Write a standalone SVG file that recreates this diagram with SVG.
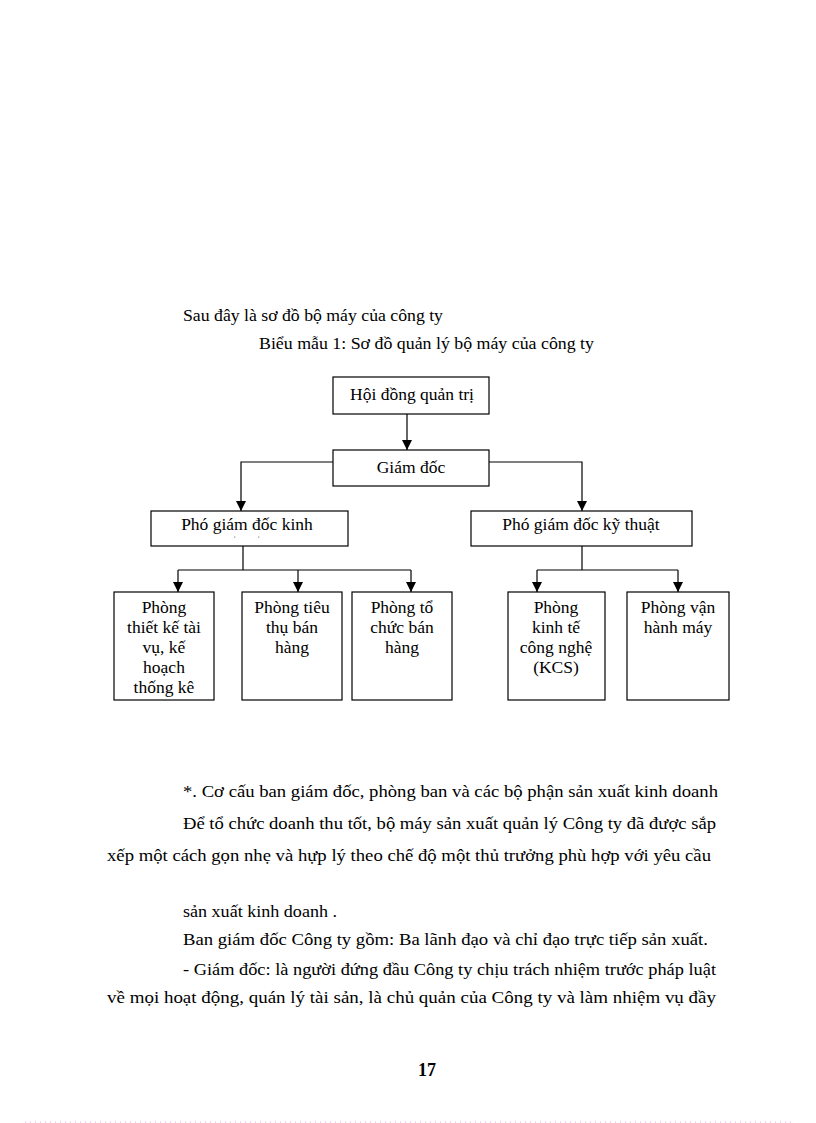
<svg xmlns="http://www.w3.org/2000/svg" width="816" height="1123" viewBox="0 0 816 1123">
<defs>
<marker id="ah" viewBox="0 0 10 10" refX="10" refY="5" markerWidth="10" markerHeight="10" markerUnits="userSpaceOnUse" orient="auto">
<path d="M0,0 L10,5 L0,10 Z" fill="#000"/>
</marker>
<style>
text{font-family:"Liberation Serif","Times New Roman",serif;font-size:17px;fill:#000}
.b{font-size:17.5px}
.c{text-anchor:middle}
.box{fill:#fff;stroke:#000;stroke-width:1.2}
.ln{fill:none;stroke:#000;stroke-width:1.2}
.ar{fill:none;stroke:#000;stroke-width:1.2;marker-end:url(#ah)}
</style>
</defs>
<rect width="816" height="1123" fill="#fff"/>
<line x1="25" y1="1122" x2="792" y2="1122" stroke="#e8a0e8" stroke-width="1" stroke-dasharray="1,4"/>

<text x="183" y="321" textLength="260" lengthAdjust="spacingAndGlyphs">Sau đây là sơ đồ bộ máy của công ty</text>
<text x="259" y="349" textLength="335" lengthAdjust="spacingAndGlyphs">Biểu mẫu 1: Sơ đồ quản lý bộ máy của công ty</text>

<g id="connectors">
<line class="ar" x1="407" y1="414" x2="407" y2="450"/>
<polyline class="ar" points="333,462 241,462 241,511"/>
<polyline class="ar" points="489,462 582,462 582,511"/>
<line class="ln" x1="243" y1="546" x2="243" y2="570"/>
<line class="ln" x1="178" y1="570" x2="411" y2="570"/>
<line class="ar" x1="178" y1="570" x2="178" y2="592"/>
<line class="ar" x1="298" y1="570" x2="298" y2="592"/>
<line class="ar" x1="411" y1="570" x2="411" y2="592"/>
<line class="ln" x1="582" y1="546" x2="582" y2="570"/>
<line class="ln" x1="537" y1="570" x2="678" y2="570"/>
<line class="ar" x1="537" y1="570" x2="537" y2="592"/>
<line class="ar" x1="678" y1="570" x2="678" y2="592"/>
</g>

<g id="hdqt">
<rect class="box" x="333" y="377" width="156" height="37"/>
<text class="c b" x="412" y="400">Hội đồng quản trị</text>
</g>
<g id="giamdoc">
<rect class="box" x="333" y="450" width="156" height="36"/>
<text class="c b" x="411" y="473">Giám đốc</text>
</g>
<g id="pgd-kinh">
<rect class="box" x="151" y="511" width="197" height="35"/>
<text class="c b" x="247" y="530">Phó giám đốc kinh</text>
<text x="234" y="541" style="font-size:7px">ʹ</text>
<text x="258" y="541" style="font-size:7px">ʹ</text>
</g>
<g id="pgd-kythuat">
<rect class="box" x="471" y="511" width="221" height="35"/>
<text class="c b" x="581" y="530">Phó giám đốc kỹ thuật</text>
</g>
<g id="p-thietke">
<rect class="box" x="114" y="592" width="100" height="108"/>
<text class="c b" x="164" y="613">Phòng</text>
<text class="c b" x="164" y="633">thiết kế tài</text>
<text class="c b" x="164" y="653">vụ, kế</text>
<text class="c b" x="164" y="673">hoạch</text>
<text class="c b" x="164" y="693">thống kê</text>
</g>
<g id="p-tieuthu">
<rect class="box" x="242" y="592" width="100" height="108"/>
<text class="c b" x="292" y="613">Phòng tiêu</text>
<text class="c b" x="292" y="633">thụ bán</text>
<text class="c b" x="292" y="653">hàng</text>
</g>
<g id="p-tochuc">
<rect class="box" x="352" y="592" width="100" height="108"/>
<text class="c b" x="402" y="613">Phòng tổ</text>
<text class="c b" x="402" y="633">chức bán</text>
<text class="c b" x="402" y="653">hàng</text>
</g>
<g id="p-kinhte">
<rect class="box" x="508" y="592" width="97" height="108"/>
<text class="c b" x="556" y="613">Phòng</text>
<text class="c b" x="556" y="633">kinh tế</text>
<text class="c b" x="556" y="653">công nghệ</text>
<text class="c b" x="556" y="673">(KCS)</text>
</g>
<g id="p-vanhanh">
<rect class="box" x="627" y="592" width="102" height="108"/>
<text class="c b" x="678" y="613">Phòng vận</text>
<text class="c b" x="678" y="633">hành máy</text>
</g>

<text x="183" y="797" textLength="535" lengthAdjust="spacingAndGlyphs">*. Cơ cấu ban giám đốc, phòng ban và các bộ phận sản xuất kinh doanh</text>
<text x="183" y="829" textLength="533" lengthAdjust="spacingAndGlyphs">Để tổ chức doanh thu tốt, bộ máy sản xuất quản lý Công ty đã được sắp</text>
<text x="107" y="861" textLength="604" lengthAdjust="spacingAndGlyphs">xếp một cách gọn nhẹ và hựp lý theo chế độ một thủ trưởng phù hợp với yêu cầu</text>
<text x="183" y="917" textLength="154" lengthAdjust="spacingAndGlyphs">sản xuất kinh doanh .</text>
<text x="183" y="945" textLength="525" lengthAdjust="spacingAndGlyphs">Ban giám đốc Công ty gồm: Ba lãnh đạo và chỉ đạo trực tiếp sản xuất.</text>
<text x="183" y="975" textLength="533" lengthAdjust="spacingAndGlyphs">- Giám đốc: là người đứng đầu Công ty chịu trách nhiệm trước pháp luật</text>
<text x="107" y="1003" textLength="609" lengthAdjust="spacingAndGlyphs">về mọi hoạt động, quán lý tài sản, là chủ quản của Công ty và làm nhiệm vụ đầy</text>
<text class="c" x="427" y="1076" style="font-size:18px;font-weight:bold">17</text>
</svg>
